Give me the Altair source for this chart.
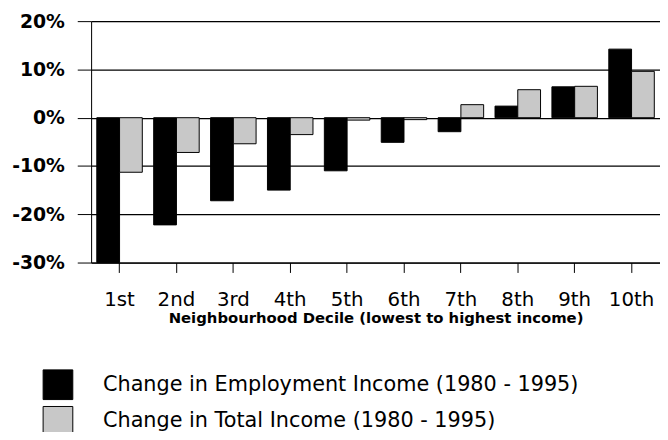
import altair as alt
import pandas as pd

deciles = ["1st", "2nd", "3rd", "4th", "5th", "6th", "7th", "8th", "9th", "10th"]
series = ["Change in Employment Income (1980 - 1995)", "Change in Total Income (1980 - 1995)"]
employment = [-30.0, -22.2, -17.2, -15.0, -11.0, -5.1, -2.9, 2.4, 6.4, 14.2]
total = [-11.3, -7.2, -5.4, -3.5, -0.5, -0.4, 2.7, 5.8, 6.5, 9.6]
y_ticks = [-30, -20, -10, 0, 10, 20]

rows = []
for i, d in enumerate(deciles):
    rows.append({"Decile": d, "Series": series[0], "Value": employment[i]})
    rows.append({"Decile": d, "Series": series[1], "Value": total[i]})
df = pd.DataFrame(rows)

FONT = "DejaVu Sans"

bars = alt.Chart(df).mark_bar(stroke="black", strokeWidth=1).encode(
    x=alt.X("Decile:N", sort=deciles,
            scale=alt.Scale(paddingInner=0.2, paddingOuter=0.1),
            axis=alt.Axis(title="Neighbourhood Decile (lowest to highest income)",
                          labelAngle=0, labelFontSize=20, labelFont=FONT,
                          labelColor="black", labelPadding=17,
                          tickSize=10, tickColor="black", domainColor="black",
                          titleFont=FONT, titleFontSize=15, titleFontWeight="bold",
                          titleColor="black", titlePadding=2, grid=False)),
    xOffset=alt.XOffset("Series:N", sort=series, scale=alt.Scale(paddingInner=0, paddingOuter=0)),
    y=alt.Y("Value:Q", scale=alt.Scale(domain=[-30, 20], nice=False),
            axis=alt.Axis(title=None, values=y_ticks, labelExpr="datum.value + '%'",
                          labelFontSize=19, labelFont=FONT, labelFontWeight="bold",
                          labelColor="black", labelPadding=13,
                          tickSize=14, tickColor="black", domainColor="black",
                          grid=True, gridColor="black", gridWidth=1.3, gridOpacity=1)),
    color=alt.Color("Series:N", sort=series,
                    scale=alt.Scale(domain=series, range=["#000000", "#c8c8c8"]),
                    legend=alt.Legend(title=None, orient="none", legendX=-49, legendY=352,
                                      symbolType="square", symbolSize=900,
                                      symbolStrokeColor="black", symbolStrokeWidth=1,
                                      labelFontSize=21, labelFont=FONT, labelColor="black",
                                      labelOffset=30, rowPadding=2, labelLimit=600)),
)

chart = bars.properties(
    width=575, height=244,
    autosize=alt.AutoSizeParams(type="none"),
    padding={"left": 84, "top": 11, "right": 0, "bottom": 169},
).configure_view(stroke=None).configure(background="white")

chart.save("out.html", embed_options={"renderer": "svg", "actions": False})
